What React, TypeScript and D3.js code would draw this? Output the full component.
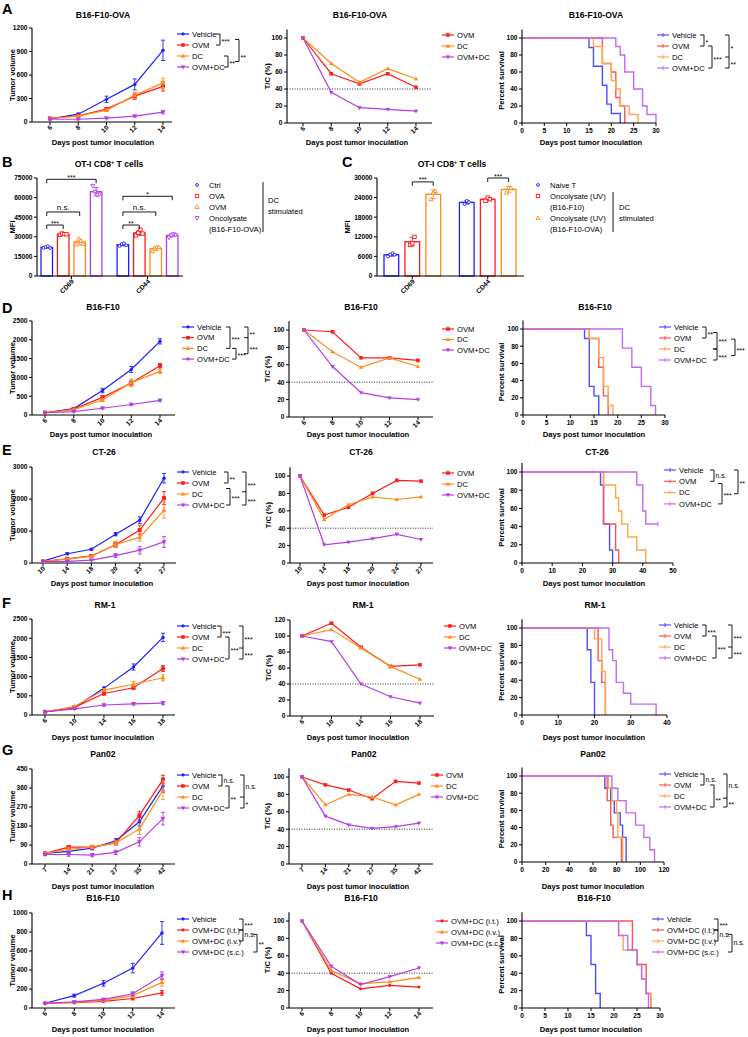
import React from 'react';
import * as d3 from 'd3';

const FONT = '"Liberation Sans", Arial, Helvetica, sans-serif';
const BLUE = '#1f1fff', RED = '#ff1a1a', ORANGE = '#ff8c1a', PURPLE = '#b43ee6';
const SBLUE = '#4d4dff', SRED = '#ff5252', SORANGE = '#ffa64d', SPURPLE = '#c46af2';
const TICK_FS = 6.6, LEG_FS = 7.6, TITLE_FS = 8.6, AXL_FS = 7.6;

// ---------- names ----------
const groupNames = ['Vehicle', 'OVM', 'DC', 'OVM+DC'];
const tcNames = ['OVM', 'DC', 'OVM+DC'];
const hNames = ['Vehicle', 'OVM+DC (i.t.)', 'OVM+DC (i.v.)', 'OVM+DC (s.c.)'];
const hTcNames = ['OVM+DC (i.t.)', 'OVM+DC (i.v.)', 'OVM+DC (s.c.)'];
const tcTicks = [0, 20, 40, 60, 80, 100];
const tcTicks120 = [0, 20, 40, 60, 80, 100, 120];
const survTicks30 = [0, 5, 10, 15, 20, 25, 30];
const survTicks50 = [0, 10, 20, 30, 40, 50];
const survTicks40 = [0, 10, 20, 30, 40];
const survTicks120 = [0, 20, 40, 60, 80, 100, 120];

// ---------- A: B16-F10-OVA ----------
const aDays = [6, 8, 10, 12, 14];
const aVolTicks = [0, 300, 600, 900, 1200];
const aVehicle = [40, 100, 290, 480, 915];
const aVehicleErr = [8, 15, 40, 70, 130];
const aOVM = [45, 80, 165, 330, 455];
const aOVMErr = [5, 8, 20, 40, 60];
const aDC = [45, 75, 150, 340, 500];
const aDCErr = [5, 8, 15, 40, 60];
const aCombo = [35, 35, 50, 75, 125];
const aComboErr = [5, 5, 8, 10, 20];
const aTcOVM = [100, 58, 46, 58, 42];
const aTcDC = [100, 70, 48, 64, 52];
const aTcCombo = [100, 36, 18, 16, 14];
const aSurvVehicle: [number, number][] = [[0, 100], [15, 88.9], [16, 66.7], [18, 44.4], [19, 22.2], [20, 11.1], [22, 0]];
const aSurvOVM: [number, number][] = [[0, 100], [18, 70], [20, 60], [21, 30], [22, 20], [23, 0]];
const aSurvDC: [number, number][] = [[0, 100], [16, 90], [18, 70], [20, 50], [21, 40], [22, 20], [24, 10], [26, 0]];
const aSurvCombo: [number, number][] = [[0, 100], [21, 90], [22, 80], [23, 60], [25, 40], [27, 20], [28, 10], [30, 0]];

// ---------- B: OT-I CD8+ T cells (MFI) ----------
const bGroups = ['CD69', 'CD44'];
const bSeries = ['Ctrl', 'OVA', 'OVM', 'Oncolysate'];
const bTicks = [0, 15000, 30000, 45000, 60000, 75000];
const bCtrl = [[21500, 22300, 22800, 21400], [23000, 24500, 25000, 23500]];
const bOVA = [[31500, 32500, 32000, 32000], [31000, 33000, 35500, 32500]];
const bOVM = [[24000, 28500, 27000, 24500], [19000, 21000, 22000, 22000]];
const bOnco = [[69000, 64500, 62000, 62500], [29500, 31000, 32000, 31500]];

// ---------- C ----------
const cGroups = ['CD69', 'CD44'];
const cSeries = ['Naive T', 'Oncolysate (UV) (B16-F10)', 'Oncolysate (UV) (B16-F10-OVA)'];
const cTicks = [0, 6000, 12000, 18000, 24000, 30000];
const cNaive = [[6000, 6500, 7000, 6500], [22000, 23000, 22600]];
const cOncoF10 = [[9500, 10000, 12000], [23000, 24000, 23500]];
const cOncoOVA = [[23500, 25500, 26000], [25500, 27000, 27000]];

// ---------- D: B16-F10 ----------
const dDays = [6, 8, 10, 12, 14];
const dVolTicks = [0, 500, 1000, 1500, 2000, 2500];
const dVehicle = [60, 170, 650, 1210, 1960];
const dVehicleErr = [10, 20, 60, 80, 70];
const dOVM = [60, 160, 470, 850, 1310];
const dOVMErr = [8, 15, 40, 60, 60];
const dDC = [60, 140, 400, 860, 1160];
const dDCErr = [8, 15, 40, 100, 60];
const dCombo = [60, 90, 180, 280, 390];
const dComboErr = [8, 10, 20, 20, 25];
const dTcOVM = [100, 98, 68, 68, 65];
const dTcDC = [100, 75, 57, 68, 58];
const dTcCombo = [100, 58, 28, 22, 20];
const dSurvVehicle: [number, number][] = [[0, 100], [13, 88.9], [14, 33.3], [15, 22.2], [16, 0]];
const dSurvOVM: [number, number][] = [[0, 100], [14, 88.9], [16, 55.6], [17, 22.2], [18, 0]];
const dSurvDC: [number, number][] = [[0, 100], [14, 88.9], [16, 66.7], [17, 33.3], [18, 11.1], [19, 0]];
const dSurvCombo: [number, number][] = [[0, 100], [21, 77.8], [23, 55.6], [25, 33.3], [27, 11.1], [28, 0]];

// ---------- E: CT-26 ----------
const eDays = [10, 14, 18, 20, 23, 27];
const eTcDays = [10, 14, 18, 20, 24, 27];
const eVolTicks = [0, 1000, 2000, 3000];
const eVehicle = [60, 290, 430, 900, 1340, 2650];
const eVehicleErr = [10, 30, 30, 50, 100, 150];
const eOVM = [50, 130, 220, 570, 1030, 2030];
const eOVMErr = [8, 20, 30, 80, 150, 200];
const eDC = [50, 120, 210, 580, 800, 1650];
const eDCErr = [8, 20, 30, 100, 120, 250];
const eCombo = [40, 50, 90, 230, 400, 660];
const eComboErr = [5, 10, 20, 60, 120, 170];
const eTcOVM = [100, 55, 64, 80, 95, 94];
const eTcDC = [100, 50, 67, 76, 73, 76];
const eTcCombo = [100, 21, 24, 28, 33, 27];
const eSurvVehicle: [number, number][] = [[0, 100], [26, 85.7], [27, 42.9], [29, 14.3], [30, 0]];
const eSurvOVM: [number, number][] = [[0, 100], [27, 42.9], [31, 14.3], [32, 0]];
const eSurvDC: [number, number][] = [[0, 100], [27, 85.7], [31, 71.4], [32, 57.1], [33, 42.9], [35, 28.6], [38, 14.3], [41, 0]];
const eSurvCombo: [number, number][] = [[0, 100], [38, 85.7], [40, 57.1], [41, 42.9], [45, 42.9]];

// ---------- F: RM-1 ----------
const fDays = [6, 10, 14, 16, 18];
const fVolTicks = [0, 500, 1000, 1500, 2000, 2500];
const fVehicle = [80, 190, 700, 1250, 2020];
const fVehicleErr = [10, 20, 30, 80, 110];
const fOVM = [80, 200, 560, 710, 1210];
const fOVMErr = [10, 20, 40, 40, 80];
const fDC = [80, 220, 650, 800, 970];
const fDCErr = [10, 20, 40, 70, 80];
const fCombo = [80, 160, 260, 290, 310];
const fComboErr = [10, 15, 30, 30, 40];
const fTcOVM = [100, 116, 86, 62, 64];
const fTcDC = [100, 108, 85, 62, 46];
const fTcCombo = [100, 93, 40, 24, 16];
const fSurvVehicle: [number, number][] = [[0, 100], [18, 75], [19, 37.5], [20, 0]];
const fSurvOVM: [number, number][] = [[0, 100], [21, 62.5], [22, 37.5], [23, 0]];
const fSurvDC: [number, number][] = [[0, 100], [20, 87.5], [22, 50], [23, 0]];
const fSurvCombo: [number, number][] = [[0, 100], [24, 75], [25, 62.5], [26, 37.5], [28, 25], [30, 12.5], [37, 0]];

// ---------- G: Pan02 ----------
const gDays = [7, 14, 21, 27, 35, 42];
const gVolTicks = [0, 90, 180, 270, 360, 450];
const gVehicle = [50, 60, 75, 110, 200, 370];
const gVehicleErr = [5, 8, 8, 10, 20, 30];
const gOVM = [50, 80, 80, 100, 230, 400];
const gOVMErr = [5, 8, 8, 10, 20, 20];
const gDC = [50, 70, 80, 100, 165, 350];
const gDCErr = [5, 8, 8, 10, 25, 45];
const gCombo = [45, 45, 42, 55, 105, 215];
const gComboErr = [5, 8, 8, 10, 20, 30];
const gTcOVM = [100, 91, 85, 75, 95, 93];
const gTcDC = [100, 68, 80, 77, 68, 80];
const gTcCombo = [100, 55, 45, 41, 43, 47];
const gSurvVehicle: [number, number][] = [[0, 100], [70, 85.7], [75, 71.4], [78, 57.1], [83, 42.9], [85, 28.6], [88, 0]];
const gSurvOVM: [number, number][] = [[0, 100], [72, 71.4], [75, 42.9], [77, 28.6], [84, 0]];
const gSurvDC: [number, number][] = [[0, 100], [73, 85.7], [76, 71.4], [80, 57.1], [81, 28.6], [85, 0]];
const gSurvCombo: [number, number][] = [[0, 100], [76, 85.7], [81, 71.4], [88, 57.1], [96, 42.9], [103, 28.6], [108, 14.3], [112, 0]];

// ---------- H: B16-F10 routes ----------
const hDays = [6, 8, 10, 12, 14];
const hVolTicks = [0, 200, 400, 600, 800, 1000];
const hVehicle = [50, 130, 260, 420, 790];
const hVehicleErr = [8, 15, 30, 50, 120];
const hIT = [50, 55, 70, 100, 160];
const hITErr = [5, 5, 8, 15, 25];
const hIV = [50, 60, 80, 130, 270];
const hIVErr = [5, 8, 10, 20, 40];
const hSC = [50, 65, 90, 150, 340];
const hSCErr = [5, 8, 10, 20, 40];
const hTcIT = [100, 40, 22, 26, 24];
const hTcIV = [100, 43, 28, 30, 35];
const hTcSC = [100, 48, 27, 36, 46];
const hSurvVehicle: [number, number][] = [[0, 100], [14, 83.3], [15, 50], [16, 16.7], [17, 0]];
const hSurvIT: [number, number][] = [[0, 100], [24, 66.7], [25, 50], [27, 16.7], [28, 0]];
const hSurvIV: [number, number][] = [[0, 100], [21, 83.3], [22, 66.7], [25, 50], [26, 33.3], [27, 16.7], [28, 0]];
const hSurvSC: [number, number][] = [[0, 100], [21, 83.3], [23, 66.7], [25, 50], [26, 33.3], [27, 16.7], [27.5, 0]];

// ---------- types ----------
type Mk = 'circle' | 'square' | 'tri' | 'tridown';
interface Ser { name: string; color: string; mk: Mk; v: number[]; e?: number[] }
interface Br { a: number; b: number; x: number; ticks?: number[]; labels: [string, number][] }
interface Leg { x: number; y0: number; dy: number; br?: Br[] }

function Mark({ mk, x, y, c, s = 2, open = false }: { mk: Mk; x: number; y: number; c: string; s?: number; open?: boolean }) {
  const fill = open ? '#fff' : c;
  const sw = open ? 0.9 : 0.2;
  if (mk === 'circle') return <circle cx={x} cy={y} r={s * 0.85} fill={fill} stroke={c} strokeWidth={sw} />;
  if (mk === 'square') return <rect x={x - s} y={y - s} width={2 * s} height={2 * s} fill={fill} stroke={c} strokeWidth={sw} />;
  if (mk === 'tri') return <polygon points={`${x},${y - s * 1.25} ${x - s * 1.2},${y + s * 0.85} ${x + s * 1.2},${y + s * 0.85}`} fill={fill} stroke={c} strokeWidth={sw} />;
  return <polygon points={`${x},${y + s * 1.25} ${x - s * 1.2},${y - s * 0.85} ${x + s * 1.2},${y - s * 0.85}`} fill={fill} stroke={c} strokeWidth={sw} />;
}

function Brackets({ br, y0, dy }: { br: Br[]; y0: number; dy: number }) {
  return (
    <g>
      {br.map((b, i) => {
        const ya = y0 + b.a * dy, yb = y0 + b.b * dy;
        return (
          <g key={i}>
            <path d={`M${b.x - 4},${ya}H${b.x}V${yb}H${b.x - 4}`} fill="none" stroke="#000" strokeWidth={0.9} />
            {(b.ticks || []).map((t, j) => (
              <line key={j} x1={b.x - 4} x2={b.x} y1={y0 + t * dy} y2={y0 + t * dy} stroke="#000" strokeWidth={0.9} />
            ))}
            {b.labels.map(([s, li], j) => (
              <text key={j} x={b.x + 1.5} y={y0 + li * dy + (s.startsWith('*') ? 4.6 : 2.5)} fontSize={s.startsWith('*') ? 7 : 6.8}>{s}</text>
            ))}
          </g>
        );
      })}
    </g>
  );
}

function Legend({ items, leg, surv = false }: { items: { name: string; color: string; mk: Mk }[]; leg: Leg; surv?: boolean }) {
  return (
    <g>
      {items.map((it, i) => {
        const yy = leg.y0 + i * leg.dy;
        return (
          <g key={i}>
            <line x1={leg.x} x2={leg.x + 12} y1={yy} y2={yy} stroke={it.color} strokeWidth={1.2} />
            {surv ? (
              <line x1={leg.x + 6} x2={leg.x + 6} y1={yy - 2} y2={yy + 2} stroke={it.color} strokeWidth={1} />
            ) : (
              <Mark mk={it.mk} x={leg.x + 6} y={yy} c={it.color} s={1.7} />
            )}
            <text x={leg.x + 15} y={yy + 2.7} fontSize={LEG_FS}>{it.name}</text>
          </g>
        );
      })}
      {leg.br && <Brackets br={leg.br} y0={leg.y0} dy={leg.dy} />}
    </g>
  );
}

interface LP {
  axX: number; xEnd: number; xr: [number, number]; yr: [number, number]; dom: number;
  days: number[]; ticks: number[]; ser: Ser[]; title: string; tx: number; ty: number;
  ylab: string; ylx: number; xlx: number; xly: number; ref?: number; leg: Leg; ms?: number;
}

function LinePanel(p: LP) {
  const x = d3.scalePoint<number>().domain(p.days).range(p.xr);
  const y = d3.scaleLinear().domain([0, p.dom]).range(p.yr);
  const y0 = y(0);
  const line = d3.line<number>().x((_, i) => x(p.days[i]) as number).y((d) => y(d));
  const ms = p.ms ?? 1.9;
  return (
    <g>
      <text x={p.tx} y={p.ty} textAnchor="middle" fontSize={TITLE_FS} fontWeight="bold">{p.title}</text>
      {p.ref !== undefined && (
        <line x1={p.axX} x2={p.xEnd} y1={y(p.ref)} y2={y(p.ref)} stroke="#222" strokeWidth={0.9} strokeDasharray="1.1,1.4" />
      )}
      <line x1={p.axX} x2={p.axX} y1={y0} y2={y(p.dom)} stroke="#000" strokeWidth={1.1} />
      <line x1={p.axX} x2={p.xEnd} y1={y0} y2={y0} stroke="#000" strokeWidth={1.1} />
      {p.ticks.map((t) => (
        <g key={t}>
          <line x1={p.axX - 3} x2={p.axX} y1={y(t)} y2={y(t)} stroke="#000" strokeWidth={1} />
          <text x={p.axX - 4.5} y={y(t) + 2.3} textAnchor="end" fontSize={TICK_FS} fontWeight="bold">{t}</text>
        </g>
      ))}
      {p.days.map((d) => (
        <g key={d}>
          <line x1={x(d)} x2={x(d)} y1={y0} y2={y0 + 3} stroke="#000" strokeWidth={1} />
          <text transform={`translate(${(x(d) as number) + 2.5},${y0 + 6}) rotate(-45)`} textAnchor="end" fontSize={TICK_FS} fontWeight="bold">{d}</text>
        </g>
      ))}
      <text transform={`translate(${p.ylx},${(y0 + y(p.dom)) / 2}) rotate(-90)`} textAnchor="middle" fontSize={AXL_FS} fontWeight="bold">{p.ylab}</text>
      <text x={p.xlx} y={p.xly} textAnchor="middle" fontSize={AXL_FS} fontWeight="bold">Days post tumor inoculation</text>
      {p.ser.map((s, si) => (
        <g key={si}>
          <path d={line(s.v) || ''} fill="none" stroke={s.color} strokeWidth={1.2} />
          {s.e && s.v.map((v, i) => {
            const cx = x(p.days[i]) as number;
            const e = s.e![i];
            return (
              <g key={i}>
                <line x1={cx} x2={cx} y1={y(v - e)} y2={y(v + e)} stroke={s.color} strokeWidth={0.9} />
                <line x1={cx - 2} x2={cx + 2} y1={y(v + e)} y2={y(v + e)} stroke={s.color} strokeWidth={0.9} />
                <line x1={cx - 2} x2={cx + 2} y1={y(v - e)} y2={y(v - e)} stroke={s.color} strokeWidth={0.9} />
              </g>
            );
          })}
          {s.v.map((v, i) => (
            <Mark key={i} mk={s.mk} x={x(p.days[i]) as number} y={y(v)} c={s.color} s={ms} />
          ))}
        </g>
      ))}
      <Legend items={p.ser} leg={p.leg} />
    </g>
  );
}

interface SP {
  axX: number; xEnd: number; xMax: number; xTicks: number[]; yr: [number, number];
  curves: { name: string; color: string; pts: [number, number][]; censor?: boolean }[];
  title: string; tx: number; ty: number; ylx: number; xlx: number; xly: number; leg: Leg;
}

function SurvPanel(p: SP) {
  const x = d3.scaleLinear().domain([0, p.xMax]).range([p.axX, p.xEnd]);
  const y = d3.scaleLinear().domain([0, 110]).range(p.yr);
  const y0 = y(0);
  const line = d3.line<[number, number]>().x((d) => x(d[0])).y((d) => y(d[1])).curve(d3.curveStepAfter);
  return (
    <g>
      <text x={p.tx} y={p.ty} textAnchor="middle" fontSize={TITLE_FS} fontWeight="bold">{p.title}</text>
      {p.curves.map((c, i) => (
        <g key={i}>
          <path d={line(c.pts) || ''} fill="none" stroke={c.color} strokeWidth={1.4} />
          {c.censor && (() => {
            const last = c.pts[c.pts.length - 1];
            return <line x1={x(last[0])} x2={x(last[0])} y1={y(last[1]) - 2.5} y2={y(last[1]) + 2.5} stroke={c.color} strokeWidth={1} />;
          })()}
        </g>
      ))}
      <line x1={p.axX} x2={p.axX} y1={y0} y2={y(110)} stroke="#000" strokeWidth={1.1} />
      <line x1={p.axX} x2={p.xEnd} y1={y0} y2={y0} stroke="#000" strokeWidth={1.1} />
      {tcTicks.map((t) => (
        <g key={t}>
          <line x1={p.axX - 3} x2={p.axX} y1={y(t)} y2={y(t)} stroke="#000" strokeWidth={1} />
          <text x={p.axX - 4.5} y={y(t) + 2.3} textAnchor="end" fontSize={TICK_FS} fontWeight="bold">{t}</text>
        </g>
      ))}
      {p.xTicks.map((t) => (
        <g key={t}>
          <line x1={x(t)} x2={x(t)} y1={y0} y2={y0 + 3} stroke="#000" strokeWidth={1} />
          <text x={x(t)} y={y0 + 10} textAnchor="middle" fontSize={TICK_FS} fontWeight="bold">{t}</text>
        </g>
      ))}
      <text transform={`translate(${p.ylx},${(y0 + y(100)) / 2}) rotate(-90)`} textAnchor="middle" fontSize={AXL_FS} fontWeight="bold">Percent survival</text>
      <text x={p.xlx} y={p.xly} textAnchor="middle" fontSize={AXL_FS} fontWeight="bold">Days post tumor inoculation</text>
      <Legend items={p.curves.map((c) => ({ name: c.name, color: c.color, mk: 'circle' as Mk }))} leg={p.leg} surv />
    </g>
  );
}

interface BP {
  axX: number; xEnd: number; xr: [number, number]; pad: number; yr: [number, number]; dom: number; ticks: number[];
  groups: string[]; series: { name: string; color: string; mk: Mk; pts: number[][] }[];
  sig: { g: number; s1: number; s2: number; v: number; label: string }[]; ylx: number;
}

function BarPanel(p: BP) {
  const y = d3.scaleLinear().domain([0, p.dom]).range(p.yr);
  const gx = d3.scaleBand<string>().domain(p.groups).range(p.xr).paddingInner(p.pad);
  const sx = d3.scaleBand<string>().domain(p.series.map((s) => s.name)).range([0, gx.bandwidth()]).paddingInner(0.3);
  const y0 = y(0);
  const cx = (g: number, s: number) => (gx(p.groups[g]) as number) + (sx(p.series[s].name) as number) + sx.bandwidth() / 2;
  return (
    <g>
      {p.series.map((s, si) => (
        <g key={si}>
          {p.groups.map((g, gi) => {
            const pts = s.pts[gi];
            const m = d3.mean(pts) as number;
            const sd = d3.deviation(pts) || 0;
            const c = cx(gi, si);
            const bw = sx.bandwidth();
            return (
              <g key={gi}>
                <rect x={c - bw / 2} y={y(m)} width={bw} height={y0 - y(m)} fill="#fff" stroke={s.color} strokeWidth={1.3} />
                <line x1={c} x2={c} y1={y(m - sd)} y2={y(m + sd)} stroke={s.color} strokeWidth={0.9} />
                <line x1={c - 2.5} x2={c + 2.5} y1={y(m + sd)} y2={y(m + sd)} stroke={s.color} strokeWidth={0.9} />
                <line x1={c - 2.5} x2={c + 2.5} y1={y(m - sd)} y2={y(m - sd)} stroke={s.color} strokeWidth={0.9} />
                <line x1={c - bw / 2 + 1.5} x2={c + bw / 2 - 1.5} y1={y(m)} y2={y(m)} stroke={s.color} strokeWidth={1} />
                {pts.map((v, k) => (
                  <Mark key={k} mk={s.mk} x={c + (k - (pts.length - 1) / 2) * 2.2} y={y(v)} c={s.color} s={1.7} open />
                ))}
              </g>
            );
          })}
        </g>
      ))}
      <line x1={p.axX} x2={p.axX} y1={y0} y2={y(p.dom)} stroke="#000" strokeWidth={1.1} />
      <line x1={p.axX} x2={p.xEnd} y1={y0} y2={y0} stroke="#000" strokeWidth={1.1} />
      {p.ticks.map((t) => (
        <g key={t}>
          <line x1={p.axX - 3} x2={p.axX} y1={y(t)} y2={y(t)} stroke="#000" strokeWidth={1} />
          <text x={p.axX - 4.5} y={y(t) + 2.3} textAnchor="end" fontSize={TICK_FS} fontWeight="bold">{t}</text>
        </g>
      ))}
      {p.groups.map((g) => {
        const c = (gx(g) as number) + gx.bandwidth() / 2;
        return (
          <g key={g}>
            <line x1={c} x2={c} y1={y0} y2={y0 + 3} stroke="#000" strokeWidth={1} />
            <text transform={`translate(${c + 3},${y0 + 6}) rotate(-45)`} textAnchor="end" fontSize={TICK_FS} fontWeight="bold">{g}</text>
          </g>
        );
      })}
      {p.sig.map((s, i) => {
        const x1 = cx(s.g, s.s1), x2 = cx(s.g, s.s2), yy = y(s.v);
        return (
          <g key={i}>
            <path d={`M${x1},${yy + 4}V${yy}H${x2}V${yy + 4}`} fill="none" stroke="#000" strokeWidth={0.9} />
            <text x={(x1 + x2) / 2} y={s.label.startsWith('*') ? yy + 0.5 : yy - 1.5} textAnchor="middle" fontSize={s.label.startsWith('*') ? 7 : 8}>{s.label}</text>
          </g>
        );
      })}
      <text transform={`translate(${p.ylx},${(y0 + y(p.dom)) / 2}) rotate(-90)`} textAnchor="middle" fontSize={AXL_FS} fontWeight="bold">MFI</text>
    </g>
  );
}

const mk4: Mk[] = ['circle', 'square', 'tri', 'tridown'];
const col4 = [BLUE, RED, ORANGE, PURPLE];
const scol4 = [SBLUE, SRED, SORANGE, SPURPLE];
const mk3: Mk[] = ['square', 'tri', 'tridown'];
const col3 = [RED, ORANGE, PURPLE];

function vol(names: string[], vals: number[][], errs: number[][], mks: Mk[] = mk4): Ser[] {
  return names.map((n, i) => ({ name: n, color: col4[i], mk: mks[i], v: vals[i], e: errs[i] }));
}
function tc(names: string[], vals: number[][], mks: Mk[] = mk3): Ser[] {
  return names.map((n, i) => ({ name: n, color: col3[i], mk: mks[i], v: vals[i] }));
}
function surv(names: string[], curves: [number, number][][], censorLast = -1) {
  return names.map((n, i) => ({ name: n, color: scol4[i], pts: curves[i], censor: i === censorLast }));
}

function Title2({ x, y }: { x: number; y: number }) {
  return (
    <text x={x} y={y} textAnchor="middle" fontSize={TITLE_FS} fontWeight="bold">
      OT-I CD8<tspan dy={-3} fontSize={5.5}>+</tspan><tspan dy={3}>{'  T cells'}</tspan>
    </text>
  );
}

export default function App() {
  const letters: [string, number, number][] = [['A', 2, 14], ['B', 2, 167], ['C', 342, 167], ['D', 2, 313], ['E', 2, 455], ['F', 2, 608], ['G', 2, 755], ['H', 2, 900]];
  const hMk: Mk[] = ['circle', 'circle', 'tri', 'tridown'];
  const hTcMk: Mk[] = ['circle', 'tri', 'tridown'];
  return (
    <svg width={748} height={1037} style={{ position: 'absolute', left: 0, top: 0, background: '#fff' }} fontFamily={FONT}>
      <rect x={0} y={0} width={748} height={1037} fill="#fff" />
      {letters.map(([l, x, y]) => (
        <text key={l} x={x} y={y} fontSize={14.5} fontWeight="bold">{l}</text>
      ))}

      {/* ---- A ---- */}
      <LinePanel axX={32} xEnd={172} xr={[50, 163]} yr={[122, 28]} dom={1200} days={aDays} ticks={aVolTicks}
        ser={vol(groupNames, [aVehicle, aOVM, aDC, aCombo], [aVehicleErr, aOVMErr, aDCErr, aComboErr])}
        title="B16-F10-OVA" tx={103} ty={18} ylab="Tumor volume" ylx={15} xlx={103} xly={145}
        leg={{ x: 177, y0: 34, dy: 11, br: [{ a: 0, b: 1, x: 220, labels: [['***', 0.5]] }, { a: 2, b: 3, x: 228, labels: [['**', 2.5]] }, { a: 0.5, b: 2.5, x: 239, labels: [['**', 1.9]] }] }} />
      <LinePanel axX={287} xEnd={432} xr={[303, 416]} yr={[123, 29.5]} dom={110} days={aDays} ticks={tcTicks}
        ser={tc(tcNames, [aTcOVM, aTcDC, aTcCombo])} ref={40}
        title="B16-F10-OVA" tx={360} ty={18} ylab="T/C (%)" ylx={270} xlx={357} xly={145}
        leg={{ x: 442, y0: 35, dy: 11 }} ms={1.7} />
      <SurvPanel axX={522} xEnd={656} xMax={30} xTicks={survTicks30} yr={[123, 29.5]}
        curves={surv(groupNames, [aSurvVehicle, aSurvOVM, aSurvDC, aSurvCombo])}
        title="B16-F10-OVA" tx={596} ty={18} ylx={504} xlx={591} xly={145}
        leg={{ x: 657, y0: 35, dy: 11, br: [{ a: 0, b: 1, x: 704, labels: [['*', 0.5]] }, { a: 1, b: 3, x: 712, labels: [['***', 2]] }, { a: 0, b: 3, x: 729, ticks: [2], labels: [['*', 1], ['**', 2.5]] }] }} />

      {/* ---- B ---- */}
      <Title2 x={109} y={167} />
      <BarPanel axX={37} xEnd={183} xr={[41, 178]} pad={0.2} yr={[276, 178]} dom={75000} ticks={bTicks} groups={bGroups}
        series={[
          { name: bSeries[0], color: BLUE, mk: 'circle', pts: bCtrl },
          { name: bSeries[1], color: RED, mk: 'square', pts: bOVA },
          { name: bSeries[2], color: ORANGE, mk: 'tri', pts: bOVM },
          { name: bSeries[3], color: PURPLE, mk: 'tridown', pts: bOnco },
        ]}
        sig={[
          { g: 0, s1: 0, s2: 3, v: 74000, label: '***' }, { g: 0, s1: 0, s2: 2, v: 49000, label: 'n.s.' }, { g: 0, s1: 0, s2: 1, v: 39000, label: '***' },
          { g: 1, s1: 0, s2: 3, v: 61000, label: '*' }, { g: 1, s1: 0, s2: 2, v: 49000, label: 'n.s.' }, { g: 1, s1: 0, s2: 1, v: 39000, label: '**' },
        ]} ylx={15} />
      <g fontSize={LEG_FS}>
        <Mark mk="circle" x={197} y={185} c={BLUE} s={1.7} open />
        <text x={209} y={187.7}>Ctrl</text>
        <Mark mk="square" x={197} y={196} c={RED} s={1.7} open />
        <text x={209} y={198.7}>OVA</text>
        <Mark mk="tri" x={197} y={207} c={ORANGE} s={1.7} open />
        <text x={209} y={209.7}>OVM</text>
        <Mark mk="tridown" x={197} y={218} c={PURPLE} s={1.7} open />
        <text x={209} y={220.7}>Oncolysate</text>
        <text x={209} y={231.7}>(B16-F10-OVA)</text>
        <line x1={263} x2={263} y1={182} y2={232} stroke="#000" strokeWidth={0.9} />
        <text x={268} y={203}>DC</text>
        <text x={268} y={214}>stimulated</text>
      </g>

      {/* ---- C ---- */}
      <Title2 x={452} y={167} />
      <BarPanel axX={377} xEnd={524} xr={[384, 516]} pad={0.25} yr={[276, 178]} dom={30000} ticks={cTicks} groups={cGroups}
        series={[
          { name: cSeries[0], color: BLUE, mk: 'circle', pts: cNaive },
          { name: cSeries[1], color: RED, mk: 'square', pts: cOncoF10 },
          { name: cSeries[2], color: ORANGE, mk: 'tri', pts: cOncoOVA },
        ]}
        sig={[{ g: 0, s1: 1, s2: 2, v: 28800, label: '***' }, { g: 1, s1: 1, s2: 2, v: 30000, label: '***' }]} ylx={350} />
      <g fontSize={LEG_FS}>
        <Mark mk="circle" x={538} y={185} c={BLUE} s={1.7} open />
        <text x={550} y={187.7}>Naive T</text>
        <Mark mk="square" x={538} y={196} c={RED} s={1.7} open />
        <text x={550} y={198.7}>Oncolysate (UV)</text>
        <text x={550} y={209.7}>(B16-F10)</text>
        <Mark mk="tri" x={538} y={218} c={ORANGE} s={1.7} open />
        <text x={550} y={220.7}>Oncolysate (UV)</text>
        <text x={550} y={231.7}>(B16-F10-OVA)</text>
        <line x1={613} x2={613} y1={192} y2={232} stroke="#000" strokeWidth={0.9} />
        <text x={619} y={210}>DC</text>
        <text x={619} y={221}>stimulated</text>
      </g>

      {/* ---- D ---- */}
      <LinePanel axX={32} xEnd={175} xr={[45, 160]} yr={[415, 321]} dom={2500} days={dDays} ticks={dVolTicks}
        ser={vol(groupNames, [dVehicle, dOVM, dDC, dCombo], [dVehicleErr, dOVMErr, dDCErr, dComboErr])}
        title="B16-F10" tx={103} ty={310} ylab="Tumor volume" ylx={15} xlx={101} xly={437}
        leg={{ x: 182, y0: 327, dy: 10.7, br: [{ a: 0, b: 2, x: 230, labels: [['***', 1]] }, { a: 2, b: 3, x: 236, labels: [['***', 2.5]] }, { a: 0, b: 2.5, x: 248, ticks: [1], labels: [['**', 0.5], ['***', 1.9]] }] }} />
      <LinePanel axX={289} xEnd={433} xr={[304, 418]} yr={[417, 321.3]} dom={110} days={dDays} ticks={tcTicks}
        ser={tc(tcNames, [dTcOVM, dTcDC, dTcCombo])} ref={40}
        title="B16-F10" tx={361} ty={310} ylab="T/C (%)" ylx={270} xlx={358} xly={437}
        leg={{ x: 442, y0: 329, dy: 10.5 }} ms={1.7} />
      <SurvPanel axX={523} xEnd={665} xMax={30} xTicks={survTicks30} yr={[415, 320.4]}
        curves={surv(groupNames, [dSurvVehicle, dSurvOVM, dSurvDC, dSurvCombo])}
        title="B16-F10" tx={595} ty={310} ylx={504} xlx={594} xly={437}
        leg={{ x: 659, y0: 327, dy: 11, br: [{ a: 0, b: 1, x: 706, labels: [['**', 0.5]] }, { a: 0.5, b: 2, x: 717, labels: [['***', 1.1]] }, { a: 2, b: 3, x: 717, labels: [['***', 2.6]] }, { a: 1.1, b: 2.6, x: 735, labels: [['***', 1.9]] }] }} />

      {/* ---- E ---- */}
      <LinePanel axX={32} xEnd={176} xr={[43, 164]} yr={[563, 467]} dom={3000} days={eDays} ticks={eVolTicks}
        ser={vol(groupNames, [eVehicle, eOVM, eDC, eCombo], [eVehicleErr, eOVMErr, eDCErr, eComboErr])}
        title="CT-26" tx={104} ty={455} ylab="Tumor volume" ylx={15} xlx={102} xly={586}
        leg={{ x: 177, y0: 472, dy: 11, br: [{ a: 0, b: 1, x: 228, labels: [['**', 0.5]] }, { a: 1.5, b: 3, x: 230, labels: [['***', 2.2]] }, { a: 0, b: 3, x: 246, ticks: [1.8], labels: [['***', 1], ['***', 2.5]] }] }} />
      <LinePanel axX={290} xEnd={433} xr={[300, 421]} yr={[563, 467.3]} dom={110} days={eTcDays} ticks={tcTicks}
        ser={tc(tcNames, [eTcOVM, eTcDC, eTcCombo])} ref={40}
        title="CT-26" tx={361} ty={455} ylab="T/C (%)" ylx={271} xlx={358} xly={586}
        leg={{ x: 442, y0: 473, dy: 11 }} ms={1.7} />
      <SurvPanel axX={522} xEnd={673} xMax={50} xTicks={survTicks50} yr={[563, 462.9]}
        curves={surv(groupNames, [eSurvVehicle, eSurvOVM, eSurvDC, eSurvCombo], 3)}
        title="CT-26" tx={597} ty={455} ylx={504} xlx={594} xly={586}
        leg={{ x: 664, y0: 470, dy: 11.3, br: [{ a: 0, b: 1, x: 714, labels: [['n.s.', 0.5]] }, { a: 1.2, b: 3, x: 722, labels: [['***', 2.1]] }, { a: 0, b: 2.1, x: 738, labels: [['**', 1]] }] }} />

      {/* ---- F ---- */}
      <LinePanel axX={32} xEnd={175} xr={[45, 163]} yr={[715, 619]} dom={2500} days={fDays} ticks={fVolTicks}
        ser={vol(groupNames, [fVehicle, fOVM, fDC, fCombo], [fVehicleErr, fOVMErr, fDCErr, fComboErr])}
        title="RM-1" tx={105} ty={608} ylab="Tumor volume" ylx={15} xlx={103} xly={740}
        leg={{ x: 177, y0: 626, dy: 11, br: [{ a: 0, b: 1, x: 221, labels: [['***', 0.5]] }, { a: 1, b: 3, x: 229, labels: [['***', 2]] }, { a: 0, b: 3, x: 243, ticks: [2], labels: [['***', 1], ['***', 2.5]] }] }} />
      <LinePanel axX={290} xEnd={434} xr={[302, 420]} yr={[716, 620]} dom={120} days={fDays} ticks={tcTicks120}
        ser={tc(tcNames, [fTcOVM, fTcDC, fTcCombo])} ref={40}
        title="RM-1" tx={363} ty={608} ylab="T/C (%)" ylx={271} xlx={358} xly={740}
        leg={{ x: 444, y0: 626, dy: 11 }} ms={1.7} />
      <SurvPanel axX={522} xEnd={667} xMax={40} xTicks={survTicks40} yr={[715, 619.3]}
        curves={surv(groupNames, [fSurvVehicle, fSurvOVM, fSurvDC, fSurvCombo])}
        title="RM-1" tx={595} ty={608} ylx={504} xlx={594} xly={740}
        leg={{ x: 659, y0: 625, dy: 11, br: [{ a: 0, b: 1, x: 706, labels: [['***', 0.5]] }, { a: 1, b: 3, x: 716, labels: [['***', 2]] }, { a: 0, b: 3, x: 732, ticks: [2], labels: [['***', 1], ['***', 2.5]] }] }} />

      {/* ---- G ---- */}
      <LinePanel axX={32} xEnd={175} xr={[45, 163]} yr={[864, 769]} dom={450} days={gDays} ticks={gVolTicks}
        ser={vol(groupNames, [gVehicle, gOVM, gDC, gCombo], [gVehicleErr, gOVMErr, gDCErr, gComboErr])}
        title="Pan02" tx={103} ty={757} ylab="Tumor volume" ylx={15} xlx={103} xly={889}
        leg={{ x: 177, y0: 775, dy: 11, br: [{ a: 0, b: 1, x: 222, labels: [['n.s.', 0.5]] }, { a: 1, b: 3, x: 229, labels: [['**', 2]] }, { a: 0, b: 3, x: 244, ticks: [2], labels: [['n.s.', 1], ['*', 2.5]] }] }} />
      <LinePanel axX={289} xEnd={433} xr={[302, 419]} yr={[864, 768.3]} dom={110} days={gDays} ticks={tcTicks}
        ser={tc(tcNames, [gTcOVM, gTcDC, gTcCombo])} ref={40}
        title="Pan02" tx={364} ty={757} ylab="T/C (%)" ylx={270} xlx={358} xly={889}
        leg={{ x: 431, y0: 775, dy: 11 }} ms={1.7} />
      <SurvPanel axX={522} xEnd={664} xMax={120} xTicks={survTicks120} yr={[862, 767.4]}
        curves={surv(groupNames, [gSurvVehicle, gSurvOVM, gSurvDC, gSurvCombo])}
        title="Pan02" tx={593} ty={757} ylx={504} xlx={593} xly={889}
        leg={{ x: 659, y0: 774, dy: 11, br: [{ a: 0, b: 1, x: 704, labels: [['n.s.', 0.5]] }, { a: 1, b: 3, x: 714, labels: [['**', 2.2]] }, { a: 0, b: 3, x: 727, ticks: [2.2], labels: [['n.s.', 1], ['**', 2.6]] }] }} />

      {/* ---- H ---- */}
      <LinePanel axX={32} xEnd={175} xr={[45, 162]} yr={[1008, 913]} dom={1000} days={hDays} ticks={hVolTicks}
        ser={vol(hNames, [hVehicle, hIT, hIV, hSC], [hVehicleErr, hITErr, hIVErr, hSCErr], hMk)}
        title="B16-F10" tx={103} ty={901} ylab="Tumor volume" ylx={15} xlx={103} xly={1032}
        leg={{ x: 177, y0: 919, dy: 11, br: [{ a: 0, b: 1, x: 243, labels: [['***', 0.4]] }, { a: 1, b: 2, x: 243, labels: [['n.s.', 1.45]] }, { a: 1.4, b: 3, x: 257, labels: [['**', 2.1]] }] }} />
      <LinePanel axX={289} xEnd={433} xr={[302, 419]} yr={[1008, 912.3]} dom={110} days={hDays} ticks={tcTicks}
        ser={tc(hTcNames, [hTcIT, hTcIV, hTcSC], hTcMk)} ref={40}
        title="B16-F10" tx={361} ty={901} ylab="T/C (%)" ylx={270} xlx={358} xly={1032}
        leg={{ x: 436, y0: 921, dy: 11 }} ms={1.7} />
      <SurvPanel axX={522} xEnd={660} xMax={30} xTicks={survTicks30} yr={[1008, 912.3]}
        curves={surv(hNames, [hSurvVehicle, hSurvIT, hSurvIV, hSurvSC])}
        title="B16-F10" tx={594} ty={901} ylx={504} xlx={591} xly={1032}
        leg={{ x: 652, y0: 919, dy: 11, br: [{ a: 0, b: 1, x: 718, labels: [['***', 0.4]] }, { a: 1, b: 2, x: 718, labels: [['n.s.', 1.45]] }, { a: 1.4, b: 3, x: 732, labels: [['n.s.', 2.1]] }] }} />
    </svg>
  );
}
